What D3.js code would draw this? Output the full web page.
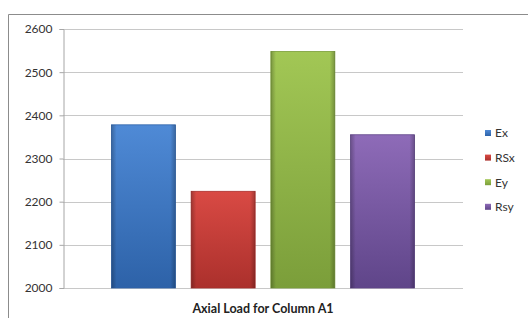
<!DOCTYPE html>
<html lang="en">
<head>
    <meta charset="UTF-8">
    <title>Axial Load for Column A1</title>
    <script src="https://d3js.org/d3.v7.min.js"></script>
    <style>
        body { margin: 0; background: #fff; }
        .tick text { font: 12px Lato, "Open Sans", sans-serif; fill: #333; }
        .legend text { font: 12px Lato, "Open Sans", sans-serif; fill: #333; }
        .title { font: bold 12.5px Lato, "Open Sans", sans-serif; fill: #222; }
    </style>
</head>
<body>
    <svg width="528" height="318"></svg>
    <script>
        // data
        const series = ["Ex", "RSx", "Ey", "Rsy"];
        const values = [2378, 2224, 2548, 2355];
        const yTicks = [2000, 2100, 2200, 2300, 2400, 2500, 2600];
        const title = "Axial Load for Column A1";

        const colors = {
            Ex:  ["#4f8ad6", "#2d62a8"],
            RSx: ["#d94a44", "#ab302c"],
            Ey:  ["#a2c755", "#7b9e3a"],
            Rsy: ["#8e6bb8", "#5f4589"]
        };

        const svg = d3.select("svg");
        const margin = { left: 63, right: 463, top: 29, bottom: 288 };

        // chart border (top and left visible)
        svg.append("path")
            .attr("d", "M8.5,318 V14.5 H528")
            .attr("fill", "none")
            .attr("stroke", "#8c8c8c")
            .attr("stroke-width", 1);

        const y = d3.scaleLinear().domain([2000, 2600]).range([margin.bottom, margin.top]);
        const x = d3.scaleBand().domain(series)
            .range([margin.left, margin.right])
            .paddingInner(0.197)
            .paddingOuter(0.608);

        // gradients
        const defs = svg.append("defs");
        series.forEach(function(s, i) {
            const g = defs.append("linearGradient")
                .attr("id", "g" + i)
                .attr("x1", 0).attr("y1", 0).attr("x2", 0).attr("y2", 1);
            g.append("stop").attr("offset", "0%").attr("stop-color", colors[s][0]);
            g.append("stop").attr("offset", "100%").attr("stop-color", colors[s][1]);
        });
        const side = defs.append("linearGradient")
            .attr("id", "side")
            .attr("x1", 0).attr("y1", 0).attr("x2", 1).attr("y2", 0);
        side.append("stop").attr("offset", "0%").attr("stop-color", "#000").attr("stop-opacity", 0.25);
        side.append("stop").attr("offset", "8%").attr("stop-color", "#000").attr("stop-opacity", 0);
        side.append("stop").attr("offset", "92%").attr("stop-color", "#000").attr("stop-opacity", 0);
        side.append("stop").attr("offset", "100%").attr("stop-color", "#000").attr("stop-opacity", 0.25);

        // gridlines
        svg.append("g")
            .selectAll("line")
            .data(yTicks)
            .enter().append("line")
            .attr("x1", margin.left)
            .attr("x2", margin.right)
            .attr("y1", function(d) { return Math.round(y(d)) + 0.5; })
            .attr("y2", function(d) { return Math.round(y(d)) + 0.5; })
            .attr("stroke", "#c8c8c8");

        // y axis
        const yAxis = d3.axisLeft(y).tickValues(yTicks).tickFormat(d3.format("d"))
            .tickSize(4).tickPadding(7);
        const ag = svg.append("g")
            .attr("transform", "translate(" + (margin.left + 0.5) + ",0)")
            .call(yAxis);
        ag.select(".domain").attr("stroke", "#a6a6a6");
        ag.selectAll(".tick line").attr("stroke", "#a6a6a6");

        // bars
        const bars = svg.append("g")
            .selectAll("g")
            .data(series)
            .enter().append("g");

        bars.append("rect")
            .attr("x", function(d) { return x(d); })
            .attr("y", function(d, i) { return y(values[i]); })
            .attr("width", x.bandwidth())
            .attr("height", function(d, i) { return y(2000) - y(values[i]); })
            .attr("fill", function(d, i) { return "url(#g" + i + ")"; })
            .attr("stroke", function(d) { return colors[d][1]; })
            .attr("stroke-width", 0.8);

        bars.append("rect")
            .attr("x", function(d) { return x(d); })
            .attr("y", function(d, i) { return y(values[i]); })
            .attr("width", x.bandwidth())
            .attr("height", function(d, i) { return y(2000) - y(values[i]); })
            .attr("fill", "url(#side)");

        // legend
        const legend = svg.append("g")
            .attr("class", "legend")
            .selectAll("g")
            .data(series)
            .enter().append("g")
            .attr("transform", function(d, i) { return "translate(485," + (133 + i * 24.6) + ")"; });

        legend.append("rect")
            .attr("x", 0).attr("y", -3)
            .attr("width", 6).attr("height", 6)
            .attr("fill", function(d, i) { return "url(#g" + i + ")"; });

        legend.append("text")
            .attr("x", 10)
            .attr("dy", "0.36em")
            .text(function(d) { return d; });

        // axis title
        svg.append("text")
            .attr("class", "title")
            .attr("x", 263)
            .attr("y", 313)
            .attr("text-anchor", "middle")
            .text(title);
    </script>
</body>
</html>
